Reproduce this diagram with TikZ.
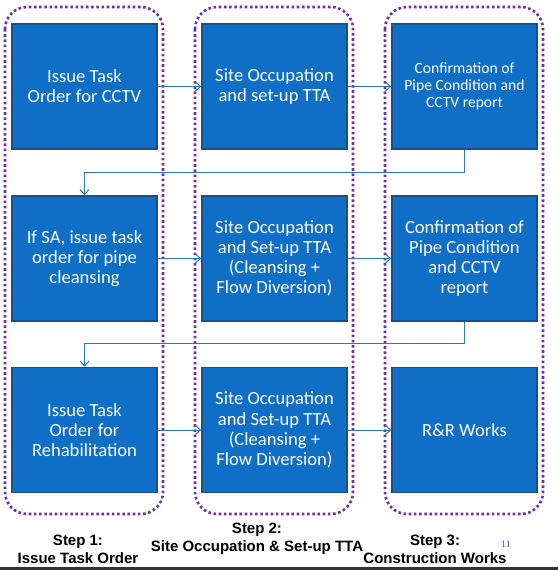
\documentclass[tikz,border=0pt]{standalone}
\usepackage{fontspec}
\setmainfont{Carlito}
\newfontfamily\labelfont{Liberation Sans}
\newfontfamily\numfont{Liberation Serif}
\usetikzlibrary{arrows.meta}
\definecolor{boxblue}{HTML}{0F6FC6}
\definecolor{boxedge}{HTML}{1B4F86}
\definecolor{connblue}{HTML}{2E75C6}
\definecolor{dotpurple}{HTML}{7030A0}
\definecolor{barcol}{HTML}{333333}
\definecolor{numblue}{HTML}{1F5FBF}
\tikzset{
  stepbox/.style={draw=boxedge, line width=1.5pt, fill=boxblue, text=white,
    minimum width=145pt, minimum height=125pt, inner sep=0pt, align=center,
    font=\fontsize{18.6}{20.2}\selectfont},
  smallbox/.style={stepbox, font=\fontsize{15.6}{17.2}\selectfont},
  lane/.style={draw=dotpurple, line width=2.6pt, dash pattern=on 2.6pt off 2.6pt, rounded corners=22pt},
  conn/.style={draw=connblue, line width=1pt, -{Straight Barb[length=5pt,width=9pt]}},
  steplabel/.style={align=center, font=\labelfont\bfseries\fontsize{15}{18}\selectfont, inner sep=0pt}
}
\begin{document}
\begin{tikzpicture}[x=1pt,y=-1pt]
\useasboundingbox (0,0) rectangle (558,570);
\fill[white] (0,0) rectangle (558,570);
\fill[barcol] (0,567) rectangle (558,570);
% lanes
\draw[lane] (5,7) rectangle (163,514);
\draw[lane] (195,7) rectangle (353,514);
\draw[lane] (385,7) rectangle (543,514);
% boxes
\node[stepbox] (c11) at (84.5,86.5) {Issue Task\\Order for CCTV};
\node[stepbox] (c12) at (274.5,86.5) {Site Occupation\\and set-up TTA};
\node[smallbox] (c13) at (464.5,86.5) {Confirmation of\\Pipe Condition and\\CCTV report};
\node[stepbox] (c21) at (84.5,258.5) {If SA, issue task\\order for pipe\\cleansing};
\node[stepbox] (c22) at (274.5,258.5) {Site Occupation\\and Set-up TTA\\(Cleansing +\\Flow Diversion)};
\node[stepbox] (c23) at (464.5,258.5) {Confirmation of\\Pipe Condition\\and CCTV\\report};
\node[stepbox] (c31) at (84.5,430) {Issue Task\\Order for\\Rehabilitation};
\node[stepbox] (c32) at (274.5,430) {Site Occupation\\and Set-up TTA\\(Cleansing +\\Flow Diversion)};
\node[stepbox] (c33) at (464.5,430) {R\&R Works};
% connectors
\draw[conn] (c11.east) -- (c12.west);
\draw[conn] (c12.east) -- (c13.west);
\draw[conn] (c21.east) -- (c22.west);
\draw[conn] (c22.east) -- (c23.west);
\draw[conn] (c31.east) -- (c32.west);
\draw[conn] (c32.east) -- (c33.west);
\draw[conn] (c13.south) -- ++(0,23) -| (c21.north);
\draw[conn] (c23.south) -- ++(0,22) -| (c31.north);
% labels
\node[steplabel] (s1) at (78,549) {Step 1:\\Issue Task Order};
\node[steplabel] (s2) at (257,539) {Step 2:\\Site Occupation \& Set-up TTA};
\node[steplabel] (s3) at (435,549) {Step 3:\\Construction Works};
\node[font=\numfont\fontsize{10}{11}\selectfont, text=numblue, inner sep=0pt] (pg) at (506,544) {11};
\end{tikzpicture}
\end{document}
